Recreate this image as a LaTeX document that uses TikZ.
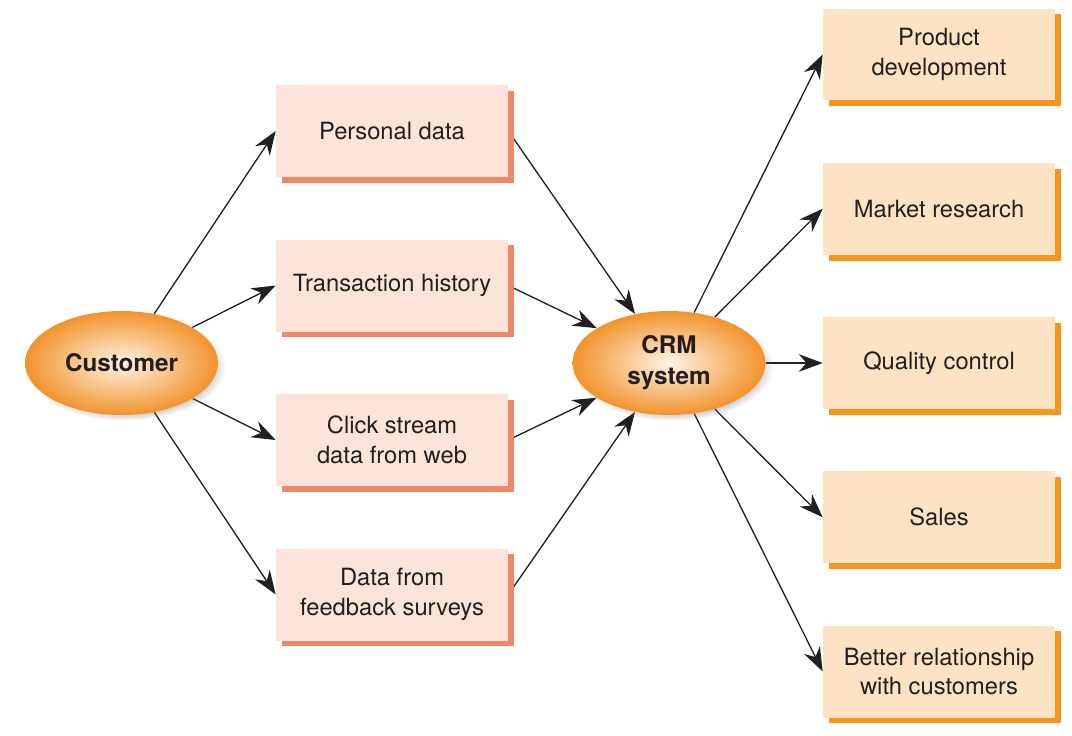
\documentclass[tikz,border=0pt]{standalone}
\usepackage{fontspec}
\setmainfont{TeX Gyre Heros}
\usetikzlibrary{arrows.meta, positioning, shapes.geometric, shadows, backgrounds}
\definecolor{inkdark}{HTML}{231F20}
\definecolor{pinkfill}{HTML}{FCE4DA}
\definecolor{pinkedge}{HTML}{F08868}
\definecolor{peachfill}{HTML}{FDE3C3}
\definecolor{peachedge}{HTML}{F7941D}
\definecolor{orbout}{HTML}{F2932C}
\definecolor{orbin}{HTML}{FEF4E6}
\tikzset{%
	plain box/.style={
		rectangle,
		minimum width=4.64cm,
		minimum height=1.84cm,
		align=center,
		text=inkdark,
		font=\fontsize{13.5}{17}\selectfont
	},
	data box/.style={
		plain box,
		fill=pinkfill,
		general shadow={fill=pinkedge, shadow xshift=3.4pt, shadow yshift=-3.4pt}
	},
	use box/.style={
		plain box,
		fill=peachfill,
		general shadow={fill=peachedge, shadow xshift=3.4pt, shadow yshift=-3.4pt}
	},
	hub/.style={
		ellipse,
		minimum width=3.86cm,
		minimum height=2.08cm,
		inner sep=0pt,
		inner color=orbin,
		outer color=orbout,
		align=center,
		text=inkdark,
		font=\fontsize{13.8}{17.5}\selectfont\bfseries,
		circular drop shadow={shadow scale=1.04, shadow xshift=2pt, shadow yshift=-2pt, opacity=0.45}
	},
	link/.style={
		-{Stealth[length=13.6pt, width=10pt]},
		line width=0.75pt,
		draw=inkdark
	},
}

\begin{document}
\begin{tikzpicture}[x=0.02cm, y=-0.02cm]
			\useasboundingbox (0,0) rectangle (1072,735);
			
			% Ellipses
			\node[hub] (cust) at (121.5,363) {Customer};
			\node[hub] (crm) at (669,363) {CRM\\system};
			
			% Collected data
			\node[data box] (pers) at (392,131) {Personal data};
			\node[data box] (trans) at (392,285.5) {Transaction history};
			\node[data box] (click) at (392,440) {Click stream\\data from web};
			\node[data box] (survey) at (392,594.5) {Data from\\feedback surveys};
			
			% Uses
			\node[use box] (prod) at (939,54.5) {Product\\development};
			\node[use box] (market) at (939,208.75) {Market research};
			\node[use box] (quality) at (939,363) {Quality control};
			\node[use box] (sales) at (939,517.25) {Sales};
			\node[use box] (relation) at (939,671.5) {Better relationship\\with customers};
			
			
			\begin{scope}[on background layer]
				\draw[link] (cust) -- (pers.west);
				\draw[link] (cust) -- (trans.west);
				\draw[link] (cust) -- (click.west);
				\draw[link] (cust) -- (survey.west);
				
				\draw[link] (pers.east) -- (crm);
				\draw[link] (trans.east) -- (crm);
				\draw[link] (click.east) -- (crm);
				\draw[link] (survey.east) -- (crm);
				
				\draw[link] (crm) -- (prod.west);
				\draw[link] (crm) -- (market.west);
				\draw[link] (crm) -- (quality.west);
				\draw[link] (crm) -- (sales.west);
				\draw[link] (crm) -- (relation.west);
			\end{scope}
		\end{tikzpicture}
\end{document}
